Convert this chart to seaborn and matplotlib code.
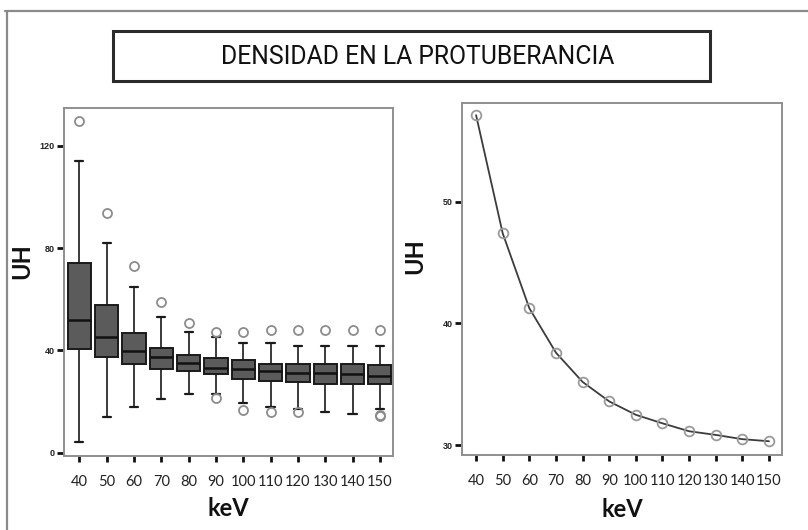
import matplotlib
matplotlib.use("Agg")
import matplotlib.pyplot as plt
from matplotlib.patches import Rectangle
from matplotlib.lines import Line2D
from matplotlib import font_manager
import numpy as np
import pandas as pd
import seaborn as sns

# keV levels and box-plot summaries of density (UH)
kev = [40, 50, 60, 70, 80, 90, 100, 110, 120, 130, 140, 150]
q1 = [40.6, 37.3, 34.7, 32.9, 32.0, 30.9, 28.9, 28.0, 27.6, 26.9, 26.9, 26.9]
median = [51.9, 45.2, 39.9, 37.3, 35.0, 33.0, 32.6, 32.0, 31.0, 31.0, 30.7, 30.1]
q3 = [74.1, 57.8, 46.9, 40.8, 38.1, 37.0, 36.3, 34.7, 34.7, 34.7, 34.7, 34.2]
whisker_low = [4.2, 14.1, 17.7, 20.9, 23.0, 23.0, 19.3, 17.7, 17.0, 15.9, 15.0, 17.0]
whisker_high = [114.2, 81.9, 64.9, 53.2, 47.1, 45.2, 42.8, 42.8, 41.7, 41.7, 41.7, 41.7]
outliers = [[129.8], [93.9], [73.0], [58.9], [50.8], [47.1, 21.3], [47.1, 16.7],
            [48.0, 15.9], [48.0, 15.9], [48.0], [48.0], [48.0, 14.9, 14.3]]

# mean density per keV level
mean_uh = [57.1, 47.4, 41.25, 37.6, 35.2, 33.6, 32.5, 31.8, 31.15, 30.85, 30.5, 30.33]

title = "DENSIDAD EN LA PROTUBERANCIA"

sns.set_style("white")
plt.rcParams["font.family"] = ["Lato", "DejaVu Sans"]

available = {f.name for f in font_manager.fontManager.ttflist}
narrow = "Liberation Sans Narrow" if "Liberation Sans Narrow" in available else "Liberation Sans"

fig = plt.figure(figsize=(8.08, 5.30), dpi=100)
fig.patch.set_facecolor("white")
W, H = 808, 530

# outer frame lines
fig.add_artist(Line2D([5 / W, 1.0], [1 - 11 / H, 1 - 11 / H], color="#8a8a8a", lw=1.6,
                      transform=fig.transFigure))
fig.add_artist(Line2D([7 / W, 7 / W], [1 - 11 / H, 0.0], color="#8a8a8a", lw=1.6,
                      transform=fig.transFigure))

# title box
fig.add_artist(Rectangle((112.7 / W, 1 - 81 / H), (710 - 112.7) / W, (81 - 30.7) / H,
                         transform=fig.transFigure, facecolor="white", edgecolor="#2b2b2b",
                         lw=2.2))

# pick the narrowest installed face for the title and size it to the box text width
renderer = fig.canvas.get_renderer()
best = None
for fam in [narrow, "Roboto", "Lato", "Open Sans", "Noto Sans", "Liberation Sans"]:
    if fam not in available:
        continue
    t = fig.text(0, 0, title, fontsize=20, family=fam)
    w = t.get_window_extent(renderer=renderer).width
    t.remove()
    if best is None or w < best[1]:
        best = (fam, w)
title_family, w20 = best
title_size = 20 * 393 / w20
fig.text(418 / W, 1 - 57.5 / H, title, ha="center", va="center",
         fontsize=title_size, family=[title_family, "DejaVu Sans"], color="#111111")

ax1 = fig.add_axes([64 / W, 1 - 456 / H, (393 - 64) / W, (456 - 108) / H])
ax2 = fig.add_axes([461.7 / W, 1 - 455 / H, (782.3 - 461.7) / W, (455 - 103) / H])

pos = np.arange(len(kev))

# box plot from summaries
stats = []
for i in range(len(kev)):
    stats.append(dict(med=median[i], q1=q1[i], q3=q3[i], whislo=whisker_low[i],
                      whishi=whisker_high[i], fliers=outliers[i], label=str(kev[i])))
ax1.bxp(stats, positions=pos, widths=0.85, patch_artist=True, showfliers=True,
        boxprops=dict(facecolor="#5b5b5b", edgecolor="#1a1a1a", linewidth=1.4),
        medianprops=dict(color="#111111", linewidth=1.8),
        whiskerprops=dict(color="#1a1a1a", linewidth=1.2),
        capprops=dict(color="#1a1a1a", linewidth=1.6),
        capwidths=0.3,
        flierprops=dict(marker="o", markerfacecolor="none", markeredgecolor="#8c8c8c",
                        markersize=6.5, markeredgewidth=1.3))
ax1.set_xlim(-0.56, 11.48)
ax1.set_ylim(-1.3, 134.8)
ax1.set_yticks([0, 40, 80, 120])

# mean curve
df = pd.DataFrame({"pos": pos, "UH": mean_uh})
sns.lineplot(data=df, x="pos", y="UH", ax=ax2, color="#3c3c3c", lw=1.3, marker="o",
             markersize=7, markerfacecolor="none", markeredgecolor="#9a9a9a",
             markeredgewidth=1.3)
ax2.set_xlim(-0.54, 11.5)
ax2.set_ylim(29.2, 58.1)
ax2.set_yticks([30, 40, 50])

for ax in (ax1, ax2):
    ax.set_facecolor("white")
    for s in ax.spines.values():
        s.set_color("#8f8f8f")
        s.set_linewidth(1.4)
    ax.set_xticks(pos)
    ax.set_xticklabels([str(k) for k in kev], fontsize=10.5, color="#222222")
    ax.tick_params(axis="x", length=4.5, width=2.0, color="#111111", pad=9, direction="out",
                   bottom=True)
    ax.tick_params(axis="y", length=5, width=2.0, color="#111111", pad=1.5, direction="out",
                   left=True)
    for lab in ax.get_yticklabels():
        lab.set_fontsize(6.5)
        lab.set_fontweight("bold")
        lab.set_family([narrow, "DejaVu Sans"])
        lab.set_color("#222222")
    ax.set_xlabel("keV", fontsize=17, fontweight="bold", color="#111111")
    ax.set_ylabel("UH", fontsize=17, fontweight="bold", color="#111111")

ax1.yaxis.set_label_coords(-0.092, 0.56)
ax2.yaxis.set_label_coords(-0.112, 0.565)
ax1.xaxis.set_label_coords(0.5, -0.118)
ax2.xaxis.set_label_coords(0.5, -0.122)

fig.savefig("out.png", dpi=100, facecolor="white")
